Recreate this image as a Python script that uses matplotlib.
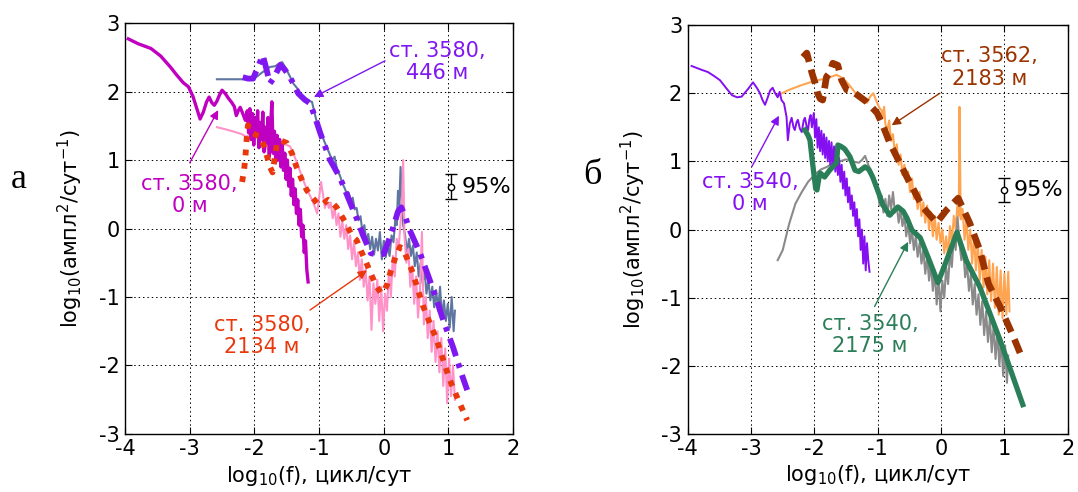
import numpy as np
import matplotlib
matplotlib.use("Agg")
import matplotlib.pyplot as plt

plt.rcParams['font.family'] = ['DejaVu Sans']
plt.rcParams['mathtext.default'] = 'regular'
plt.rcParams['axes.unicode_minus'] = False

# ---------------- data, panel a (st. 3580) ----------------
# surface, 0 m (raw spectrum)
a_0m = [(-3.95, 2.77), (-3.8, 2.7), (-3.6, 2.63), (-3.45, 2.52), (-3.3, 2.36), (-3.2, 2.24),
        (-3.1, 2.13), (-3.02, 2.07), (-2.95, 1.93), (-2.89, 1.75), (-2.84, 1.6), (-2.79, 1.7),
        (-2.74, 1.85), (-2.7, 1.92), (-2.66, 1.84), (-2.62, 1.8), (-2.58, 1.86), (-2.54, 1.95),
        (-2.5, 2.02), (-2.45, 1.97), (-2.4, 1.9), (-2.35, 1.84), (-2.31, 1.78), (-2.28, 1.65),
        (-2.25, 1.72), (-2.22, 1.77), (-2.18, 1.68), (-2.14, 1.58), (-2.11, 1.72),
        (-2.09, 1.40), (-2.07, 1.75), (-2.05, 1.30), (-2.03, 1.68), (-2.01, 1.22), (-1.99, 1.62),
        (-1.97, 1.35), (-1.95, 1.72), (-1.93, 1.18), (-1.91, 1.55), (-1.89, 1.30), (-1.87, 1.70),
        (-1.85, 1.12), (-1.83, 1.48), (-1.81, 1.25), (-1.79, 1.62), (-1.77, 1.05), (-1.75, 1.50),
        (-1.73, 1.85), (-1.71, 1.10), (-1.69, 1.42), (-1.67, 0.98), (-1.65, 1.36), (-1.63, 1.00),
        (-1.61, 1.30), (-1.59, 0.90), (-1.57, 1.22), (-1.55, 0.85), (-1.53, 1.10), (-1.51, 0.72),
        (-1.49, 1.00), (-1.47, 0.62), (-1.45, 0.88), (-1.43, 0.48), (-1.41, 0.72), (-1.39, 0.35),
        (-1.37, 0.58), (-1.35, 0.22), (-1.33, 0.42), (-1.31, 0.05), (-1.29, 0.28), (-1.27, -0.12),
        (-1.25, 0.05), (-1.23, -0.35), (-1.21, -0.18), (-1.19, -0.60), (-1.17, -0.78)]

# 446 m raw
a_446_raw = [(-2.58, 2.18), (-2.18, 2.18), (-2.1, 2.19), (-2.02, 2.2), (-1.96, 2.22), (-1.88, 2.28),
             (-1.8, 2.33), (-1.76, 2.36), (-1.68, 2.37), (-1.6, 2.42), (-1.57, 2.43), (-1.52, 2.35),
             (-1.45, 2.22), (-1.4, 2.12), (-1.34, 2.05), (-1.27, 1.95), (-1.19, 1.88), (-1.15, 1.86),
             (-1.11, 1.85), (-1.06, 1.65), (-1.02, 1.5), (-0.98, 1.4), (-0.93, 1.3), (-0.88, 1.18),
             (-0.85, 1.12), (-0.8, 1.0), (-0.76, 1.05), (-0.72, 0.85), (-0.68, 0.78), (-0.64, 0.66),
             (-0.6, 0.58), (-0.57, 0.5), (-0.54, 0.52), (-0.51, 0.4), (-0.48, 0.45), (-0.45, 0.28),
             (-0.42, 0.3), (-0.39, 0.12), (-0.36, 0.18), (-0.33, -0.05), (-0.3, 0.05), (-0.27, -0.2),
             (-0.24, -0.08), (-0.21, -0.3), (-0.18, -0.12), (-0.15, -0.38), (-0.12, -0.15),
             (-0.09, -0.32), (-0.06, -0.05), (-0.03, -0.45), (0.0, -0.18), (0.03, -0.42), (0.06, -0.25),
             (0.09, -0.4), (0.12, -0.1), (0.15, -0.2), (0.18, 0.15), (0.2, 0.05), (0.22, 0.55),
             (0.24, 0.35), (0.26, 0.9), (0.28, 0.4), (0.3, 0.05), (0.33, -0.1), (0.36, -0.35),
             (0.39, -0.15), (0.42, -0.4), (0.45, -0.25), (0.48, -0.55), (0.51, -0.35), (0.54, -0.7),
             (0.57, -0.5), (0.6, -0.8), (0.63, -0.6), (0.66, -0.95), (0.69, -0.75), (0.72, -1.05),
             (0.75, -0.85), (0.78, -1.15), (0.81, -0.9), (0.84, -1.2), (0.87, -0.85), (0.9, -1.3),
             (0.93, -1.05), (0.96, -1.35), (0.99, -1.1), (1.02, -1.45), (1.05, -1.0), (1.08, -1.5),
             (1.1, -1.2)]

# 446 m smoothed
a_446_smooth = [(-2.18, 2.21), (-2.1, 2.19), (-2.02, 2.19), (-1.95, 2.35), (-1.87, 2.53), (-1.82, 2.35),
                (-1.76, 2.12), (-1.7, 2.2), (-1.6, 2.39), (-1.53, 2.32), (-1.45, 2.21), (-1.38, 2.08),
                (-1.32, 1.97), (-1.22, 1.88), (-1.14, 1.83), (-1.06, 1.62), (-0.98, 1.39), (-0.83, 1.0),
                (-0.68, 0.75), (-0.52, 0.38), (-0.42, 0.15), (-0.32, -0.1), (-0.2, -0.36), (-0.1, -0.38),
                (0.0, -0.37), (0.06, -0.22), (0.15, 0.03), (0.22, 0.25), (0.27, 0.31), (0.33, 0.18),
                (0.4, -0.02), (0.56, -0.36), (0.71, -0.75), (0.82, -1.05), (0.92, -1.34), (1.07, -1.73),
                (1.22, -2.17), (1.29, -2.36)]

# 2134 m raw
a_2134_raw = [(-2.58, 1.48), (-2.45, 1.45), (-2.3, 1.41), (-2.2, 1.38), (-2.12, 1.34), (-2.05, 1.40),
              (-2.0, 1.30), (-1.95, 1.38), (-1.9, 1.28), (-1.85, 1.22), (-1.8, 1.16), (-1.75, 1.22),
              (-1.7, 1.28), (-1.65, 1.30), (-1.6, 1.27), (-1.55, 1.25), (-1.5, 1.22), (-1.45, 1.2),
              (-1.4, 1.1), (-1.35, 0.98), (-1.3, 0.85), (-1.25, 0.72), (-1.2, 0.6), (-1.15, 0.5),
              (-1.1, 0.4), (-1.06, 0.3), (-1.03, 0.22), (-1.0, 0.45), (-0.97, 0.68), (-0.94, 0.5),
              (-0.91, 0.3), (-0.88, 0.42), (-0.85, 0.3), (-0.82, 0.38), (-0.79, 0.15), (-0.76, 0.3),
              (-0.73, 0.05), (-0.7, 0.22), (-0.67, -0.12), (-0.64, 0.1), (-0.61, -0.15), (-0.58, 0.05),
              (-0.55, -0.3), (-0.52, -0.1), (-0.49, -0.45), (-0.46, -0.2), (-0.43, -0.55), (-0.4, -0.35),
              (-0.37, -0.75), (-0.34, -0.45), (-0.31, -0.85), (-0.28, -0.6), (-0.25, -1.05),
              (-0.22, -0.7), (-0.19, -1.48), (-0.16, -0.8), (-0.13, -1.1), (-0.1, -0.75), (-0.07, -1.35),
              (-0.04, -0.85), (-0.01, -1.5), (0.02, -0.95), (0.05, -1.2), (0.08, -0.6), (0.11, -1.0),
              (0.14, -0.4), (0.17, -0.7), (0.2, -0.15), (0.23, -0.3), (0.26, 0.1), (0.28, 0.3),
              (0.3, 1.0), (0.32, -0.1), (0.35, -0.5), (0.38, -0.3), (0.41, -0.85), (0.44, -0.55),
              (0.47, -1.1), (0.5, -0.7), (0.53, -1.3), (0.56, -0.9), (0.59, -0.05), (0.62, -1.4),
              (0.65, -1.0), (0.68, -1.6), (0.71, -1.2), (0.74, -1.8), (0.77, -1.35), (0.8, -1.95),
              (0.83, -1.5), (0.86, -2.1), (0.89, -1.6), (0.92, -2.3), (0.95, -1.75), (0.98, -2.55),
              (1.01, -1.9), (1.04, -2.45), (1.07, -2.0), (1.1, -2.5)]

# 2134 m smoothed
a_2134_smooth = [(-2.19, 0.68), (-2.16, 0.85), (-2.14, 1.04), (-2.12, 1.3), (-2.1, 1.51), (-2.06, 1.45),
                 (-2.02, 1.39), (-1.96, 1.36), (-1.91, 1.34), (-1.85, 1.2), (-1.8, 1.04), (-1.76, 0.9),
                 (-1.72, 0.82), (-1.69, 1.0), (-1.65, 1.25), (-1.58, 1.28), (-1.5, 1.25), (-1.42, 1.1),
                 (-1.35, 0.9), (-1.27, 0.72), (-1.19, 0.56), (-1.1, 0.45), (-1.03, 0.37), (-0.95, 0.35),
                 (-0.86, 0.42), (-0.8, 0.38), (-0.73, 0.31), (-0.6, 0.1), (-0.48, -0.12), (-0.42, -0.17),
                 (-0.35, -0.33), (-0.27, -0.5), (-0.19, -0.68), (-0.11, -0.85), (-0.05, -0.93),
                 (-0.01, -0.94), (0.05, -0.82), (0.1, -0.65), (0.18, -0.42), (0.25, -0.27), (0.3, -0.3),
                 (0.38, -0.48), (0.45, -0.65), (0.53, -0.9), (0.61, -1.14), (0.72, -1.4), (0.82, -1.63),
                 (0.92, -1.92), (1.02, -2.21), (1.15, -2.5), (1.29, -2.8)]

# ---------------- data, panel б (st. 3540 / 3562) ----------------
# st. 3540, 0 m raw
b_0m = [(-3.94, 2.40), (-3.8, 2.35), (-3.68, 2.31), (-3.58, 2.25), (-3.49, 2.19), (-3.38, 2.06),
        (-3.3, 1.97), (-3.22, 1.94), (-3.15, 1.95), (-3.05, 2.06), (-2.97, 2.16), (-2.91, 2.08),
        (-2.86, 2.0), (-2.82, 1.9), (-2.78, 1.83), (-2.74, 1.93), (-2.7, 2.04), (-2.66, 2.08),
        (-2.62, 2.0), (-2.58, 1.94), (-2.55, 2.02), (-2.52, 1.9), (-2.48, 1.85), (-2.44, 1.65),
        (-2.42, 1.31), (-2.39, 1.55), (-2.36, 1.64), (-2.33, 1.5), (-2.31, 1.46), (-2.28, 1.58),
        (-2.26, 1.61), (-2.23, 1.48), (-2.2, 1.43), (-2.17, 1.6), (-2.15, 1.64), (-2.12, 1.5),
        (-2.1, 1.46), (-2.08, 1.62), (-2.06, 1.68), (-2.04, 1.5), (-2.01, 1.71),
        (-1.99, 1.35), (-1.97, 1.62), (-1.95, 1.2), (-1.93, 1.5), (-1.91, 1.15), (-1.89, 1.45),
        (-1.87, 1.1), (-1.85, 1.4), (-1.83, 1.05), (-1.81, 1.35), (-1.79, 1.0), (-1.77, 1.3),
        (-1.75, 0.95), (-1.73, 1.28), (-1.71, 0.9), (-1.69, 1.22), (-1.67, 0.85), (-1.65, 1.15),
        (-1.63, 0.8), (-1.61, 1.05), (-1.59, 0.7), (-1.57, 0.95), (-1.55, 0.6), (-1.53, 0.85),
        (-1.51, 0.5), (-1.49, 0.75), (-1.47, 0.4), (-1.45, 0.62), (-1.43, 0.3), (-1.41, 0.5),
        (-1.39, 0.2), (-1.37, 0.4), (-1.35, 0.05), (-1.33, 0.3), (-1.31, -0.1), (-1.29, 0.15),
        (-1.27, -0.3), (-1.25, 0.0), (-1.23, -0.5), (-1.21, -0.1), (-1.19, -0.6), (-1.17, -0.2),
        (-1.15, -0.45), (-1.13, -0.62)]

# st. 3540, 2175 m raw
b_2175_raw = [(-2.58, -0.45), (-2.5, -0.3), (-2.4, 0.08), (-2.3, 0.38), (-2.2, 0.55), (-2.1, 0.7),
              (-2.0, 0.8), (-1.9, 0.88), (-1.8, 0.92), (-1.7, 0.98), (-1.6, 1.0), (-1.5, 1.03),
              (-1.4, 1.0), (-1.3, 0.98), (-1.25, 1.02), (-1.2, 1.08), (-1.15, 0.95), (-1.1, 0.85),
              (-1.05, 0.7), (-1.0, 0.55), (-0.97, 0.35), (-0.94, 0.5), (-0.91, 0.25), (-0.88, 0.45),
              (-0.85, 0.2), (-0.82, 0.5), (-0.79, 0.3), (-0.76, 0.55), (-0.73, 0.25), (-0.7, 0.35),
              (-0.67, 0.1), (-0.64, 0.3), (-0.61, 0.05), (-0.58, 0.2), (-0.55, -0.1), (-0.52, 0.1),
              (-0.49, -0.2), (-0.46, 0.0), (-0.43, -0.3), (-0.4, -0.1), (-0.37, -0.4), (-0.34, -0.2),
              (-0.31, -0.5), (-0.28, -0.3), (-0.25, -0.65), (-0.22, -0.4), (-0.19, -0.75), (-0.16, -0.5),
              (-0.13, -0.9), (-0.1, -0.6), (-0.07, -1.1), (-0.04, -0.7), (-0.01, -1.2), (0.02, -0.75),
              (0.05, -1.0), (0.08, -0.55), (0.11, -0.8), (0.14, -0.35), (0.17, -0.55), (0.2, -0.1),
              (0.23, -0.3), (0.26, 0.18), (0.29, -0.2), (0.32, -0.45), (0.35, -0.3), (0.38, -0.7),
              (0.41, -0.5), (0.44, -0.9), (0.47, -0.65), (0.5, -1.1), (0.53, -0.8), (0.56, -1.25),
              (0.59, -0.95), (0.62, -1.4), (0.65, -1.05), (0.68, -1.55), (0.71, -1.2), (0.74, -1.65),
              (0.77, -1.3), (0.8, -1.8), (0.83, -1.4), (0.86, -1.9), (0.89, -1.5), (0.92, -2.0),
              (0.95, -1.6), (0.98, -2.15), (1.01, -1.7), (1.04, -2.25), (1.06, -1.85)]

# st. 3540, 2175 m smoothed
b_2175_smooth = [(-2.15, 1.46), (-2.1, 1.38), (-2.07, 1.31), (-2.03, 0.98), (-1.98, 0.6), (-1.96, 0.58),
                 (-1.93, 0.75), (-1.91, 0.83), (-1.84, 0.77), (-1.76, 0.87), (-1.68, 0.95), (-1.65, 0.98),
                 (-1.63, 1.24), (-1.58, 1.22), (-1.52, 1.18), (-1.44, 1.07), (-1.36, 0.87), (-1.3, 0.85),
                 (-1.2, 0.92), (-1.14, 0.88), (-1.08, 0.77), (-0.98, 0.52), (-0.92, 0.36), (-0.81, 0.21),
                 (-0.74, 0.28), (-0.68, 0.33), (-0.6, 0.27), (-0.54, 0.17), (-0.46, -0.01), (-0.33, -0.12),
                 (-0.2, -0.42), (-0.05, -0.78), (0.1, -0.42), (0.25, -0.04), (0.4, -0.46), (0.61, -0.84),
                 (0.93, -1.62), (1.29, -2.57)]

# st. 3562, 2183 m raw
b_2183_raw = [(-2.58, 1.97), (-2.4, 2.05), (-2.2, 2.12), (-2.0, 2.18), (-1.8, 2.22), (-1.65, 2.27),
              (-1.55, 2.22), (-1.45, 2.12), (-1.35, 2.0), (-1.25, 1.9), (-1.17, 1.86), (-1.12, 1.95),
              (-1.07, 2.0), (-1.02, 1.88), (-0.97, 1.78), (-0.94, 1.75), (-0.92, 1.65), (-0.9, 1.8),
              (-0.88, 1.55), (-0.85, 1.45), (-0.82, 1.6), (-0.79, 1.3), (-0.76, 1.4), (-0.73, 1.1),
              (-0.7, 1.25), (-0.67, 0.95), (-0.64, 1.1), (-0.61, 0.8), (-0.58, 0.95), (-0.55, 0.7),
              (-0.52, 0.85), (-0.49, 0.55), (-0.46, 0.75), (-0.43, 0.45), (-0.4, 0.6), (-0.37, 0.3),
              (-0.34, 0.55), (-0.31, 0.2), (-0.28, 0.4), (-0.25, 0.1), (-0.22, 0.35), (-0.19, 0.0),
              (-0.16, 0.25), (-0.13, -0.1), (-0.1, 0.2), (-0.07, -0.15), (-0.04, 0.1), (-0.01, -0.2),
              (0.02, 0.0), (0.05, -0.35), (0.08, -0.1), (0.11, -0.4), (0.14, 0.05), (0.17, -0.2),
              (0.2, 0.2), (0.23, 0.0), (0.26, 0.4), (0.28, 0.2), (0.29, 1.8), (0.31, 0.15), (0.34, 0.3),
              (0.37, -0.15), (0.4, 0.15), (0.43, -0.3), (0.46, 0.0), (0.49, -0.5), (0.52, -0.1),
              (0.55, -0.6), (0.58, -0.2), (0.61, -0.75), (0.64, -0.3), (0.67, -0.85), (0.7, -0.4),
              (0.73, -0.95), (0.76, -0.45), (0.79, -1.05), (0.82, -0.5), (0.85, -1.15), (0.88, -0.55),
              (0.91, -1.25), (0.94, -0.6), (0.97, -1.3), (1.0, -0.65), (1.03, -1.25), (1.06, -0.62),
              (1.08, -1.2)]

# st. 3562, 2183 m smoothed
b_2183_smooth = [(-2.18, 2.53), (-2.12, 2.59), (-2.04, 2.3), (-1.99, 2.15), (-1.95, 2.0), (-1.91, 1.92),
                 (-1.87, 1.9), (-1.81, 2.24), (-1.76, 2.3), (-1.71, 2.44), (-1.63, 2.41), (-1.57, 2.19),
                 (-1.49, 2.05), (-1.39, 2.02), (-1.17, 1.87), (-1.01, 1.71), (-0.93, 1.55), (-0.81, 1.27),
                 (-0.54, 0.77), (-0.29, 0.33), (-0.07, 0.1), (0.09, 0.29), (0.27, 0.46), (0.45, 0.1),
                 (0.61, -0.3), (0.75, -0.8), (0.93, -1.13), (1.14, -1.57), (1.29, -1.91)]

# 95% confidence bars: (x, y, half-width)
ci_a = (1.04, 0.61, 0.18)
ci_b = (0.99, 0.58, 0.18)

xticks = [-4, -3, -2, -1, 0, 1, 2]
yticks = [-3, -2, -1, 0, 1, 2, 3]

# colours
c_mag = '#C000C0'
c_pur = '#7F17F0'
c_slate = '#5F77A0'
c_pink = '#FF92C8'
c_red = '#E8380C'
c_vio = '#8410F2'
c_gray = '#8A8A8A'
c_green = '#2B7F58'
c_orange = '#FFA552'
c_brown = '#9A3300'


def xy(series):
    arr = np.array(series)
    return arr[:, 0], arr[:, 1]


def setup(ax):
    ax.set_xlim(-4, 2)
    ax.set_ylim(-3, 3)
    ax.set_xticks(xticks)
    ax.set_yticks(yticks)
    ax.grid(True, color='k', linestyle=(0, (1.5, 3)), linewidth=0.7)
    ax.tick_params(direction='in', top=True, right=True, length=5, width=0.8,
                   labelsize=15, pad=4)
    for s in ax.spines.values():
        s.set_linewidth(1.0)
    ax.set_xlabel(r'log$_{10}$(f), цикл/сут', fontsize=15)
    ax.set_ylabel(r'log$_{10}$(ампл$^{2}$/сут$^{-1}$)', fontsize=15)
    ax.xaxis.set_label_coords(0.5, -0.072)


def note(ax, txt, pos, color, start, end):
    ax.text(pos[0], pos[1], txt, color=color, fontsize=15, ha='center', va='center',
            multialignment='center', linespacing=1.15)
    ax.annotate('', xy=end, xytext=start,
                arrowprops=dict(arrowstyle='-|>', color=color, lw=1.0,
                                mutation_scale=13, shrinkA=0, shrinkB=0))


def conf(ax, ci):
    ax.errorbar([ci[0]], [ci[1]], yerr=[ci[2]], fmt='o', ms=4.5, mfc='white', mec='k',
                mew=1.0, ecolor='k', elinewidth=1.0, capsize=4, capthick=1.0, zorder=5)
    ax.text(ci[0] + 0.16, ci[1], '95%', fontsize=16, va='center', ha='left')


fig = plt.figure(figsize=(10.78, 4.92), dpi=100)

# ---------------- panel a ----------------
ax1 = fig.add_axes([0.116, 0.118, 0.360, 0.835])
setup(ax1)
ax1.yaxis.set_label_coords(-0.103, 0.5)

x, y = xy(a_446_raw)
ax1.plot(x, y, color=c_slate, lw=1.5)
x, y = xy(a_2134_raw)
ax1.plot(x, y, color=c_pink, lw=1.5)
x, y = xy(a_0m)
ax1.plot(x, y, color=c_mag, lw=2.4)
x, y = xy(a_2134_smooth)
ax1.plot(x, y, color=c_red, lw=4.2, dashes=(1.0, 1.3), dash_capstyle='butt')
x, y = xy(a_446_smooth)
ax1.plot(x, y, color=c_pur, lw=4.2, dashes=(3.2, 1.3, 0.8, 1.3), dash_capstyle='butt')

note(ax1, 'ст. 3580,\n446 м', (0.82, 2.43), c_pur, (0.02, 2.45), (-1.08, 1.92))
note(ax1, 'ст. 3580,\n0 м', (-3.0, 0.49), c_mag, (-3.0, 0.96), (-2.56, 1.73))
note(ax1, 'ст. 3580,\n2134 м', (-1.88, -1.57), c_red, (-1.14, -1.19), (-0.26, -0.61))
conf(ax1, ci_a)

fig.text(0.017, 0.636, 'а', fontsize=26, family='Liberation Serif', ha='center', va='center')

# ---------------- panel б ----------------
ax2 = fig.add_axes([0.638, 0.118, 0.3525, 0.831])
setup(ax2)
ax2.yaxis.set_label_coords(-0.105, 0.5)

x, y = xy(b_2183_raw)
ax2.plot(x, y, color=c_orange, lw=1.5)
x, y = xy(b_2175_raw)
ax2.plot(x, y, color=c_gray, lw=1.5)
x, y = xy(b_0m)
ax2.plot(x, y, color=c_vio, lw=1.4)
x, y = xy(b_2175_smooth)
ax2.plot(x, y, color=c_green, lw=3.8)
x, y = xy(b_2183_smooth)
ax2.plot(x, y, color=c_brown, lw=4.8, dashes=(2.2, 1.2), dash_capstyle='butt')

note(ax2, 'ст. 3562,\n2183 м', (0.77, 2.38), c_brown, (-0.02, 2.0), (-0.78, 1.53))
note(ax2, 'ст. 3540,\n0 м', (-3.02, 0.54), c_vio, (-2.99, 0.92), (-2.56, 1.67))
note(ax2, 'ст. 3540,\n2175 м', (-1.12, -1.55), c_green, (-1.05, -1.13), (-0.52, -0.18))
conf(ax2, ci_b)

fig.text(0.550, 0.644, 'б', fontsize=26, family='Liberation Serif', ha='center', va='center')

fig.savefig('out.png', dpi=100)
